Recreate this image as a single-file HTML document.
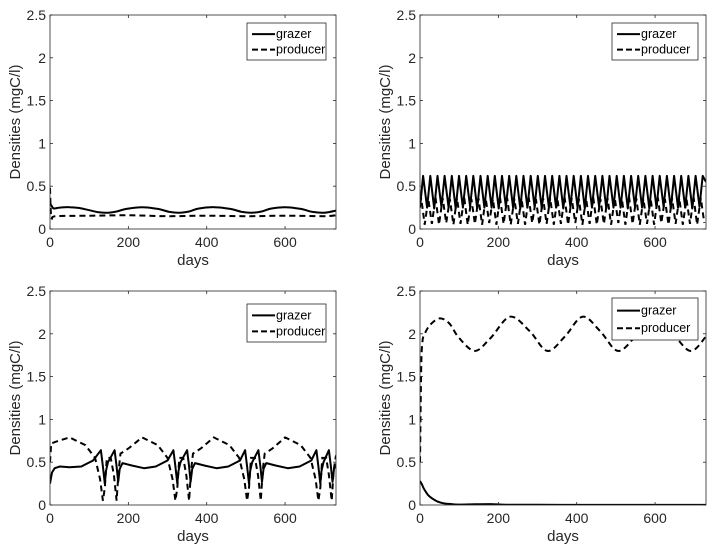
<!DOCTYPE html>
<html><head><meta charset="utf-8"><style>
body{margin:0;background:#fff;}
svg{display:block;font-family:"Liberation Sans",Arial,sans-serif;}
</style></head><body>
<svg id="fig" width="719" height="550" viewBox="0 0 719 550"></svg>
<script>
// ---- data ----
const xTicks = [0, 200, 400, 600];
const yTicks = [0, 0.5, 1, 1.5, 2, 2.5];
const yTickLabels = ["0", "0.5", "1", "1.5", "2", "2.5"];
const seriesNames = ["grazer", "producer"];

// panel A (top-left)
const aGrazerDays = [0,4,10,25,50,75,100,125,148,170,195,235,275,305,330,355,380,420,460,490,515,540,565,600,640,670,700,730];
const aGrazerVals = [0.30,0.27,0.24,0.25,0.255,0.245,0.22,0.195,0.19,0.205,0.235,0.255,0.235,0.20,0.19,0.205,0.24,0.255,0.235,0.20,0.19,0.205,0.24,0.255,0.235,0.20,0.19,0.215];
const aProdDays = [0,2,5,15,100,200,300,400,500,600,700,730];
const aProdVals = [0.48,0.2,0.12,0.15,0.155,0.16,0.15,0.155,0.15,0.155,0.15,0.16];

// panel B (top-right): fast cycles
const bPeakDays = [8,26.3,44.6,62.9,81.2,99.5,117.8,136.1,154.4,172.7,191,209.3,227.6,245.9,264.2,282.5,300.8,319.1,337.4,355.7,374,392.3,410.6,428.9,447.2,465.5,483.8,502.1,520.4,538.7,557,575.3,593.6,611.9,630.2,648.5,666.8,685.1,703.4,721.7];
const bGrazerPeak = [0.62,0.62,0.62,0.62,0.62,0.62,0.62,0.62,0.62,0.62,0.62,0.62,0.62,0.62,0.62,0.62,0.62,0.62,0.62,0.62,0.62,0.62,0.62,0.62,0.62,0.62,0.62,0.62,0.62,0.62,0.62,0.62,0.62,0.62,0.62,0.62,0.62,0.62,0.62,0.62];
const bGrazerTrough = [0.25,0.24,0.26,0.25,0.24,0.25,0.26,0.24,0.25,0.25,0.24,0.26,0.25,0.24,0.25,0.26,0.24,0.25,0.25,0.24,0.26,0.25,0.24,0.25,0.26,0.24,0.25,0.25,0.24,0.26,0.25,0.24,0.25,0.26,0.24,0.25,0.25,0.24,0.26,0.25];
const bProdPeak = [0.36,0.35,0.37,0.36,0.35,0.36,0.37,0.35,0.36,0.36,0.35,0.37,0.36,0.35,0.36,0.37,0.35,0.36,0.36,0.35,0.37,0.36,0.35,0.36,0.37,0.35,0.36,0.36,0.35,0.37,0.36,0.35,0.36,0.37,0.35,0.36,0.36,0.35,0.37,0.36];
const bProdTrough = [0.05,0.06,0.05,0.07,0.05,0.06,0.05,0.06,0.05,0.07,0.05,0.06,0.05,0.06,0.05,0.07,0.05,0.06,0.05,0.06,0.05,0.07,0.05,0.06,0.05,0.06,0.05,0.07,0.05,0.06,0.05,0.06,0.05,0.07,0.05,0.06,0.05,0.06,0.05,0.07];

// panel C (bottom-left)
const cGrazerDays = [0,5,12,25,50,80,110,130,135,140,143,148,165,170,174,178,185,210,240,270,300,315,320,325,328,333,350,355,359,363,370,395,425,455,485,498,503,508,511,516,532,537,541,545,552,577,607,637,667,680,685,690,693,698,712,717,721,725,730];
const cGrazerVals = [0.25,0.38,0.43,0.45,0.44,0.45,0.52,0.64,0.45,0.25,0.40,0.5,0.64,0.45,0.27,0.42,0.49,0.46,0.43,0.45,0.52,0.64,0.45,0.25,0.40,0.5,0.64,0.45,0.27,0.42,0.49,0.46,0.43,0.45,0.52,0.64,0.45,0.25,0.40,0.5,0.64,0.45,0.27,0.42,0.49,0.46,0.43,0.45,0.52,0.64,0.45,0.25,0.40,0.5,0.64,0.45,0.27,0.42,0.47];
const cProdDays = [0,3,15,50,90,115,128,135,140,145,155,163,170,175,180,200,235,275,300,313,320,325,330,340,348,355,360,365,385,418,458,483,496,503,508,513,523,531,538,543,548,568,600,640,665,678,685,690,695,705,712,719,724,730];
const cProdVals = [0.5,0.72,0.74,0.79,0.7,0.55,0.3,0.05,0.2,0.55,0.55,0.35,0.05,0.4,0.6,0.66,0.79,0.7,0.55,0.3,0.05,0.2,0.55,0.55,0.35,0.05,0.4,0.6,0.66,0.79,0.7,0.55,0.3,0.05,0.2,0.55,0.55,0.35,0.05,0.4,0.6,0.66,0.79,0.7,0.55,0.3,0.05,0.2,0.55,0.55,0.35,0.05,0.4,0.58];

// panel D (bottom-right)
const dGrazerDays = [0,5,10,20,30,45,60,80,100,140,180,220,300,400,500,600,730];
const dGrazerVals = [0.28,0.24,0.19,0.12,0.08,0.04,0.02,0.01,0.005,0.008,0.01,0.004,0.002,0.001,0.001,0.001,0.001];
const dProdDays = [0,3,6,10,25,50,75,100,140,180,230,280,325,370,415,460,505,550,595,640,690,730];
const dProdVals = [0.5,1.6,1.9,1.98,2.1,2.18,2.12,1.95,1.8,1.95,2.2,2.03,1.8,1.97,2.2,2.03,1.8,1.97,2.2,2.03,1.8,1.97];

// ---- rendering ----
const NS = "http://www.w3.org/2000/svg";
const fig = document.getElementById('fig');
function mk(tag, attrs, parent){
  const e = document.createElementNS(NS, tag);
  for (const k in attrs) e.setAttribute(k, attrs[k]);
  (parent||fig).appendChild(e);
  return e;
}
const X_MAX = 730, Y_MAX = 2.5;

function buildB(){
  const g = [[0,0.25]], p = [[0,0.3]];
  for (let i=0;i<bPeakDays.length;i++){
    const d = bPeakDays[i];
    g.push([d, bGrazerPeak[i]]);
    g.push([d+10, bGrazerTrough[i]]);
    p.push([d-5, bProdPeak[i]]);
    p.push([d+4, bProdTrough[i]]);
  }
  g.push([730,0.55]);
  return {g: g.filter(q=>q[0]>=0&&q[0]<=730), p: p.filter(q=>q[0]>=0&&q[0]<=730)};
}
const bSeries = buildB();

const panels = [
  {key:'top-left', L:50, R:336, T:15, B:229, leg:{x:247,y:23,w:79,h:37}, smooth:true,
   g: aGrazerDays.map((d,i)=>[d,aGrazerVals[i]]), p: aProdDays.map((d,i)=>[d,aProdVals[i]])},
  {key:'top-right', L:420, R:706, T:15, B:229, leg:{x:612,y:23,w:86,h:37}, smooth:false, g: bSeries.g, p: bSeries.p},
  {key:'bottom-left', L:50, R:336, T:291, B:505, leg:{x:247,y:304,w:79,h:38}, smooth:false,
   g: cGrazerDays.map((d,i)=>[d,cGrazerVals[i]]), p: cProdDays.map((d,i)=>[d,cProdVals[i]])},
  {key:'bottom-right', L:420, R:706, T:291, B:505, leg:{x:612,y:298,w:86,h:42}, smooth:true,
   g: dGrazerDays.map((d,i)=>[d,dGrazerVals[i]]), p: dProdDays.map((d,i)=>[d,dProdVals[i]])}
];

function linePath(pts){
  return pts.map((q,i)=>(i?'L':'M')+q[0].toFixed(1)+' '+q[1].toFixed(1)).join(' ');
}
function smoothPath(pts){
  let d = 'M'+pts[0][0].toFixed(1)+' '+pts[0][1].toFixed(1);
  for (let i=0;i<pts.length-1;i++){
    const p0 = pts[Math.max(0,i-1)], p1 = pts[i], p2 = pts[i+1], p3 = pts[Math.min(pts.length-1,i+2)];
    const c1x = p1[0] + (p2[0]-p0[0])/6, c1y = p1[1] + (p2[1]-p0[1])/6;
    const c2x = p2[0] - (p3[0]-p1[0])/6, c2y = p2[1] - (p3[1]-p1[1])/6;
    d += ' C'+c1x.toFixed(1)+' '+c1y.toFixed(1)+' '+c2x.toFixed(1)+' '+c2y.toFixed(1)+' '+p2[0].toFixed(1)+' '+p2[1].toFixed(1);
  }
  return d;
}

panels.forEach(P=>{
  const sx = v => P.L + v/X_MAX*(P.R-P.L);
  const sy = v => P.B - v/Y_MAX*(P.B-P.T);
  const grp = mk('g', {});
  
  
  const clipId = 'clip-' + P.key;
  const cp = mk('clipPath', {id: clipId}, grp);
  mk('rect', {x:P.L, y:P.T, width:P.R-P.L, height:P.B-P.T}, cp);

  const toPath = pts => {
    const px = pts.map(q=>[sx(q[0]), sy(q[1])]);
    return P.smooth ? smoothPath(px) : linePath(px);
  };
  const pl = mk('path', {d: toPath(P.p), fill:'none', stroke:'#000', 'stroke-width':2, 'stroke-dasharray':'6 4', 'clip-path':'url(#'+clipId+')'}, grp);
  
  
  const gl = mk('path', {d: toPath(P.g), fill:'none', stroke:'#000', 'stroke-width':2, 'stroke-linejoin':'round', 'clip-path':'url(#'+clipId+')'}, grp);
  
  

  const box = mk('rect', {x:P.L, y:P.T, width:P.R-P.L, height:P.B-P.T, fill:'none', stroke:'#262626', 'stroke-width':0.8}, grp);
  
  

  xTicks.forEach(t=>{
    const x = sx(t);
    mk('line', {x1:x, x2:x, y1:P.B, y2:P.B-3, stroke:'#262626', 'stroke-width':0.8}, grp);
    mk('line', {x1:x, x2:x, y1:P.T, y2:P.T+3, stroke:'#262626', 'stroke-width':0.8}, grp);
    const tx = mk('text', {x:x, y:P.B+18, 'text-anchor':'middle', 'font-size':14, fill:'#262626'}, grp);
    tx.textContent = t;
    
    
  });
  yTicks.forEach((t,i)=>{
    const y = sy(t);
    mk('line', {x1:P.L, x2:P.L+3, y1:y, y2:y, stroke:'#262626', 'stroke-width':0.8}, grp);
    mk('line', {x1:P.R, x2:P.R-3, y1:y, y2:y, stroke:'#262626', 'stroke-width':0.8}, grp);
    const ty = mk('text', {x:P.L-4, y:y+5, 'text-anchor':'end', 'font-size':14, fill:'#262626'}, grp);
    ty.textContent = yTickLabels[i];
    
    
  });
  const xl = mk('text', {x:(P.L+P.R)/2, y:P.B+36, 'text-anchor':'middle', 'font-size':15, fill:'#262626'}, grp);
  xl.textContent = 'days';
  
  
  const cy = (P.T+P.B)/2, cx = P.L-30;
  const yl = mk('text', {x:cx, y:cy, 'text-anchor':'middle', 'font-size':15, fill:'#262626', transform:'rotate(-90 '+cx+' '+cy+')'}, grp);
  yl.textContent = 'Densities (mgC/l)';
  
  

  const lg = mk('g', {}, grp);
  
  
  mk('rect', {x:P.leg.x, y:P.leg.y, width:P.leg.w, height:P.leg.h, fill:'#fff', stroke:'#262626', 'stroke-width':0.8}, lg);
  seriesNames.forEach((n,i)=>{
    const y = P.leg.y + P.leg.h*(i===0?0.3:0.72);
    const ln = mk('line', {x1:P.leg.x+5, x2:P.leg.x+28, y1:y, y2:y, stroke:'#000', 'stroke-width':2, 'stroke-dasharray': i? '6 3':'none'}, lg);
    
    
    const t = mk('text', {x:P.leg.x+29, y:y+4, 'font-size':12.5, fill:'#000'}, lg);
    t.textContent = n;
    
    
  });
});
</script>
</body></html>
